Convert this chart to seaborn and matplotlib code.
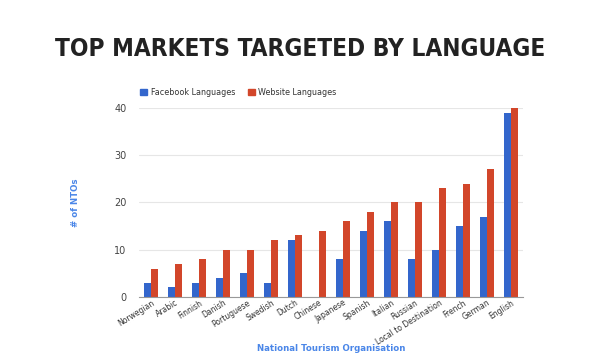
import seaborn as sns
import pandas as pd
import matplotlib.pyplot as plt
import matplotlib
import numpy as np

languages = ['Norwegian', 'Arabic', 'Finnish', 'Danish', 'Portuguese', 'Swedish', 'Dutch',
             'Chinese', 'Japanese', 'Spanish', 'Italian', 'Russian', 'Local to Destination',
             'French', 'German', 'English']
facebook = [3, 2, 3, 4, 5, 3, 12, 0, 8, 14, 16, 8, 10, 15, 17, 39]
website = [6, 7, 8, 10, 10, 12, 13, 14, 16, 18, 20, 20, 23, 24, 27, 40]
series = ['Facebook Languages', 'Website Languages']
colors = ['#3366CC', '#D2462A']

sns.set_style('white')
plt.rcParams['font.family'] = ['DejaVu Sans']

df = pd.DataFrame({
    'language': languages * 2,
    'value': facebook + website,
    'series': [series[0]] * len(languages) + [series[1]] * len(languages),
})

fig = plt.figure(figsize=(6, 3.53), dpi=100)
ax = fig.add_axes([0.232, 0.159, 0.640, 0.535])

sns.barplot(data=df, x='language', y='value', hue='series', palette=colors,
            width=0.6, gap=0, ax=ax, legend=False, edgecolor='none', saturation=1)

ax.set_ylim(0, 40)
ax.set_yticks(np.arange(0, 41, 10))
ax.grid(axis='y', color='#e6e6e6', linewidth=0.8)
ax.set_axisbelow(True)
for s in ['top', 'right', 'left']:
    ax.spines[s].set_visible(False)
ax.spines['bottom'].set_color('#999999')
ax.tick_params(axis='y', length=0, labelsize=7, labelcolor='#444444', pad=9)
ax.tick_params(axis='x', length=0, labelsize=5.5, labelcolor='#333333', pad=1)
ax.set_xticks(range(len(languages)))
ax.set_xticklabels(languages, rotation=32, ha='right', rotation_mode='anchor')

ax.set_xlabel('National Tourism Organisation', color='#4a86e8', fontsize=6.2,
              fontweight='bold')
ax.xaxis.set_label_coords(0.5, -0.25)
ax.set_ylabel('# of NTOs', color='#4a86e8', fontsize=6.2, fontweight='bold')
ax.yaxis.set_label_coords(-0.155, 0.5)

# legend
handles = [matplotlib.patches.Patch(color=c) for c in colors]
fig.legend(handles, series, loc='center left', bbox_to_anchor=(0.222, 0.738), ncol=2,
           frameon=False, fontsize=5.8, handlelength=0.85, handleheight=0.85,
           handletextpad=0.4, columnspacing=1.6, labelcolor='#333333')

fig.text(0.5, 0.862, 'TOP MARKETS TARGETED BY LANGUAGE', ha='center', va='center',
         fontsize=17.5, fontweight='bold', fontstretch='condensed', color='#222222',
         family=['DejaVu Sans'])

plt.savefig('out.png', dpi=100)
